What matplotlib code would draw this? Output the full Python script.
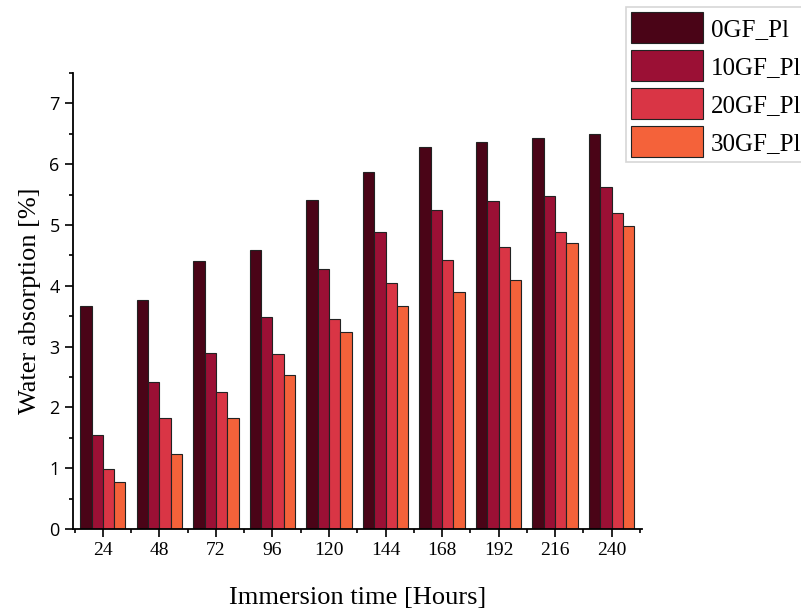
import numpy as np
import matplotlib.pyplot as plt
from matplotlib.ticker import MultipleLocator, FixedLocator

hours = ['24', '48', '72', '96', '120', '144', '168', '192', '216', '240']
gf0 = [3.67, 3.76, 4.41, 4.59, 5.41, 5.87, 6.29, 6.37, 6.43, 6.50]
gf10 = [1.54, 2.42, 2.89, 3.48, 4.28, 4.88, 5.25, 5.39, 5.48, 5.62]
gf20 = [0.99, 1.83, 2.25, 2.87, 3.45, 4.05, 4.43, 4.64, 4.88, 5.19]
gf30 = [0.78, 1.23, 1.83, 2.53, 3.24, 3.67, 3.90, 4.09, 4.70, 4.98]
names = ['0GF_Pl', '10GF_Pl', '20GF_Pl', '30GF_Pl']
colors = ['#4a0417', '#9b1035', '#d93545', '#f4623a']

serif = ['Liberation Serif', 'DejaVu Serif']

fig = plt.figure(figsize=(8.01, 6.13), dpi=100)
ax = fig.add_axes([0.091, 0.137, 0.71, 0.744])

x = np.arange(len(hours))
w = 0.2
for i, (vals, c) in enumerate(zip([gf0, gf10, gf20, gf30], colors)):
    ax.bar(x + (i - 1.5) * w, vals, w, color=c, edgecolor='#222222',
           linewidth=0.8, label=names[i])

ax.set_xlim(-0.53, 9.53)
ax.set_ylim(0, 7.5)
ax.set_xticks(x)
ax.set_xticklabels(hours, family=serif, fontsize=14)
ax.xaxis.set_minor_locator(FixedLocator(np.arange(-0.5, 10, 1)))
ax.yaxis.set_major_locator(MultipleLocator(1))
ax.yaxis.set_minor_locator(MultipleLocator(0.5))
for lab in ax.get_yticklabels():
    lab.set_fontsize(13)
    lab.set_family(['Open Sans', 'DejaVu Sans'])
ax.tick_params(which='major', direction='out', length=6, width=1.2)
ax.tick_params(which='minor', direction='out', length=3, width=1.2)
ax.spines['top'].set_visible(False)
ax.spines['right'].set_visible(False)
ax.spines['left'].set_linewidth(1.3)
ax.spines['bottom'].set_linewidth(1.3)

ax.set_xlabel('Immersion time [Hours]', family=serif, fontsize=19, labelpad=20)
ax.set_ylabel('Water absorption [%]', family=serif, fontsize=19, labelpad=6)

leg = ax.legend(loc='upper left', bbox_to_anchor=(0.781, 0.988),
                bbox_transform=fig.transFigure, prop={'family': serif, 'size': 18},
                handlelength=2.9, handleheight=1.5, labelspacing=0.3,
                borderpad=0.2, handletextpad=0.3, borderaxespad=0,
                fancybox=False)
leg.get_frame().set_edgecolor('#cccccc')
leg.get_frame().set_linewidth(1.2)

fig.savefig('out.png')
